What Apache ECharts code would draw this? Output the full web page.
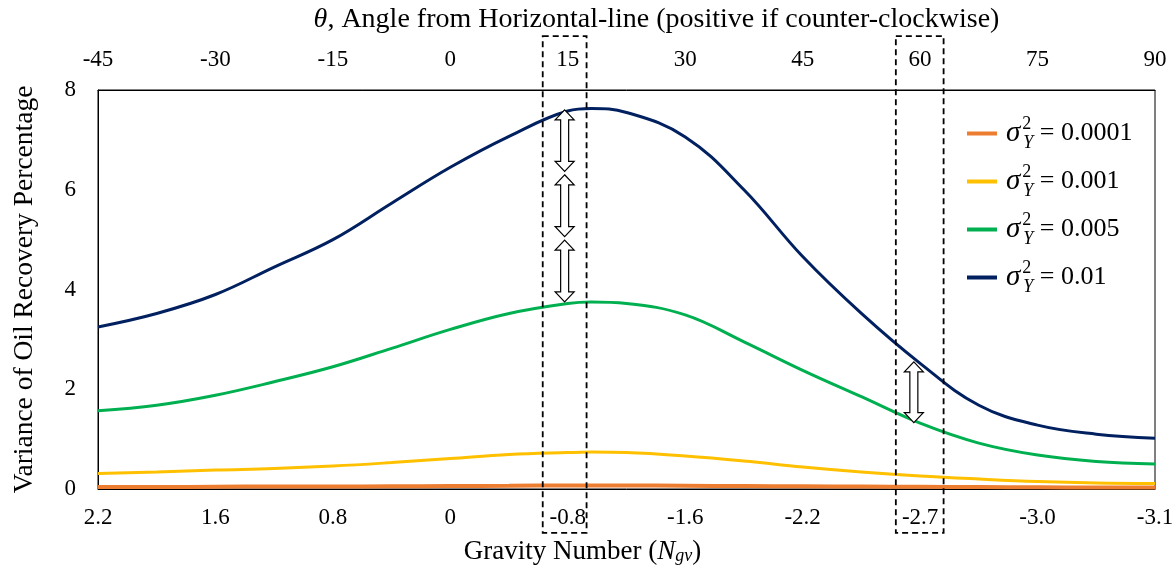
<!DOCTYPE html>
<html>
<head>
<meta charset="utf-8">
<script src="https://cdn.jsdelivr.net/npm/echarts@6/dist/echarts.min.js"></script>
<style>
  html, body { margin: 0; padding: 0; background: #fff; }
  #chart { width: 1175px; height: 567px; }
</style>
</head>
<body>
<div id="chart"></div>
<script>
const FONT = "'Liberation Serif', 'Times New Roman', serif";

// top axis: theta ticks, bottom axis: gravity number at the same positions
const thetaTicks = [-45, -30, -15, 0, 15, 30, 45, 60, 75, 90];
const gravityLabels = ["2.2", "1.6", "0.8", "0", "-0.8", "-1.6", "-2.2", "-2.7", "-3.0", "-3.1"];

// sample angles
const theta = [-45, -37.5, -30, -22.5, -15, -7.5, 0, 7.5, 15, 18, 22.5, 30, 37.5, 45, 52.5, 60, 67.5, 75, 82.5, 90];

const var0001 = [0.04, 0.04, 0.045, 0.05, 0.05, 0.055, 0.06, 0.065, 0.07, 0.07, 0.07, 0.065, 0.06, 0.055, 0.05, 0.045, 0.04, 0.035, 0.03, 0.03];
const var001  = [0.31, 0.34, 0.38, 0.41, 0.46, 0.53, 0.61, 0.69, 0.73, 0.74, 0.73, 0.66, 0.56, 0.44, 0.34, 0.26, 0.2, 0.15, 0.12, 0.11];
const var005  = [1.57, 1.68, 1.88, 2.15, 2.45, 2.82, 3.2, 3.52, 3.72, 3.75, 3.72, 3.49, 2.95, 2.38, 1.85, 1.32, 0.92, 0.68, 0.55, 0.5];
const var01   = [3.25, 3.52, 3.9, 4.45, 5.0, 5.73, 6.45, 7.07, 7.58, 7.63, 7.55, 7.06, 6.0, 4.66, 3.52, 2.52, 1.68, 1.28, 1.1, 1.02];

const seriesNames = ["0.0001", "0.001", "0.005", "0.01"];
const seriesData = [var0001, var001, var005, var01];
const colors = ["#ED7D31", "#FFC000", "#00B050", "#002060"];

// dashed highlight boxes: [theta from, theta to, y from, y to]
const boxes = [[11.8, 17.4, -0.88, 9.08], [56.9, 63.0, -0.88, 9.08]];
// double arrows: [theta, y top, y bottom]
const arrows = [[14.6, 7.6, 6.37], [14.6, 6.3, 5.06], [14.6, 4.99, 3.75], [59.2, 2.55, 1.33]];

const chart = echarts.init(document.getElementById("chart"));

const lineSeries = seriesNames.map((n, i) => ({
  name: n,
  type: "line",
  xAxisIndex: 0,
  smooth: 0.4,
  showSymbol: false,
  lineStyle: { width: i === 0 ? 4 : 3, color: colors[i] },
  itemStyle: { color: colors[i] },
  data: theta.map((t, k) => [t, seriesData[i][k]])
}));

chart.setOption({
  animation: false,
  textStyle: { fontFamily: FONT },
  grid: {
    left: 98, right: 20, top: 90, bottom: 78,
    outerBoundsMode: "none",
    show: true, borderColor: "#000", borderWidth: 1
  },
  legend: {
    data: seriesNames,
    orient: "vertical",
    left: 962,
    top: 110,
    itemWidth: 30,
    itemHeight: 4,
    itemGap: 11,
    icon: "rect",
    formatter: (n) => `{s|σ}{p|2}{b|Y}{t| = ${n}}`,
    textStyle: {
      color: "#000",
      fontFamily: FONT,
      padding: [0, 0, 0, 4],
      rich: {
        s: { fontSize: 29, fontStyle: "italic", lineHeight: 37, fontFamily: FONT, color: "#000" },
        p: { fontSize: 18, lineHeight: 18, verticalAlign: "top", width: 0, fontFamily: FONT, color: "#000", padding: [0, 0, 0, 2] },
        b: { fontSize: 18, fontStyle: "italic", lineHeight: 18, verticalAlign: "bottom", fontFamily: FONT, color: "#000", padding: [0, 0, 0, 1] },
        t: { fontSize: 26, lineHeight: 37, fontFamily: FONT, color: "#000" }
      }
    }
  },
  xAxis: [
    {
      type: "value", position: "bottom", min: -45, max: 90, interval: 15,
      splitLine: { show: false }, axisTick: { show: false },
      axisLine: { show: true, onZero: false, lineStyle: { color: "#000" } },
      axisLabel: {
        color: "#000", fontSize: 23, margin: 17, fontFamily: FONT,
        formatter: (v) => gravityLabels[Math.round((v + 45) / 15)]
      },
      name: "Gravity Number ({i|N}{g|gv})",
      nameLocation: "middle", nameGap: 49,
      nameTextStyle: {
        color: "#000", fontSize: 27, fontFamily: FONT,
        padding: [0, 88, 0, 0],
        rich: {
          i: { fontSize: 27, fontStyle: "italic", fontFamily: FONT, color: "#000" },
          g: { fontSize: 18, fontStyle: "italic", fontFamily: FONT, color: "#000", verticalAlign: "bottom", lineHeight: 14 }
        }
      }
    },
    {
      type: "value", position: "top", min: -45, max: 90, interval: 15,
      splitLine: { show: false }, axisTick: { show: false },
      axisLine: { show: true, onZero: false, lineStyle: { color: "#000" } },
      axisLabel: { color: "#000", fontSize: 23, margin: 19, fontFamily: FONT },
      name: "{i|θ}, Angle from Horizontal-line (positive if counter-clockwise)",
      nameLocation: "middle", nameGap: 56,
      nameTextStyle: {
        color: "#000", fontSize: 28, fontFamily: FONT,
        padding: [0, 0, 0, 60],
        rich: { i: { fontSize: 28, fontStyle: "italic", fontFamily: FONT, color: "#000" } }
      }
    }
  ],
  yAxis: {
    type: "value", min: 0, max: 8, interval: 2,
    splitLine: { show: false }, axisTick: { show: false },
    axisLine: { show: true, onZero: false, lineStyle: { color: "#000" } },
    axisLabel: { color: "#000", fontSize: 23, margin: 22, fontFamily: FONT },
    name: "Variance of Oil Recovery Percentage",
    nameLocation: "middle", nameGap: 59,
    nameTextStyle: { color: "#000", fontSize: 27.5, fontFamily: FONT }
  },
  series: lineSeries.concat([
    {
      type: "custom",
      silent: true,
      xAxisIndex: 0,
      clip: false,
      z: 5,
      data: boxes,
      renderItem: (params, api) => {
        const a = api.coord([api.value(0), api.value(3)]);
        const b = api.coord([api.value(1), api.value(2)]);
        return {
          type: "rect",
          shape: { x: a[0], y: a[1], width: b[0] - a[0], height: b[1] - a[1] },
          style: { fill: "none", stroke: "#000", lineWidth: 1.8, lineDash: [6, 4] }
        };
      }
    },
    {
      type: "custom",
      silent: true,
      xAxisIndex: 0,
      clip: false,
      z: 6,
      data: arrows,
      renderItem: (params, api) => {
        const top = api.coord([api.value(0), api.value(1)]);
        const bot = api.coord([api.value(0), api.value(2)]);
        const x = top[0], yt = top[1], yb = bot[1];
        const hw = 9.5, hl = 10, sw = 4;
        return {
          type: "polygon",
          shape: {
            points: [
              [x, yt], [x + hw, yt + hl], [x + sw, yt + hl], [x + sw, yb - hl], [x + hw, yb - hl],
              [x, yb], [x - hw, yb - hl], [x - sw, yb - hl], [x - sw, yt + hl], [x - hw, yt + hl]
            ]
          },
          style: { fill: "#fff", stroke: "#000", lineWidth: 1.2 }
        };
      }
    }
  ])
});
</script>
</body>
</html>
